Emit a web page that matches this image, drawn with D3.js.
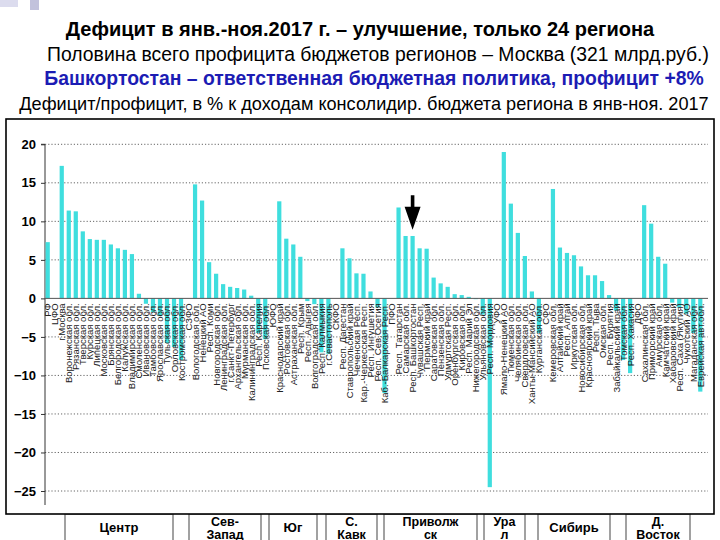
<!DOCTYPE html>
<html><head><meta charset="utf-8">
<script src="https://cdn.jsdelivr.net/npm/d3@7"></script>
<style>body{margin:0;background:#fff}svg{display:block}</style>
</head><body><svg id="c" width="720" height="540"></svg>
<script>
const categories = ["РФ","ЦФО","г.Москва","Воронежская обл.","Рязанская обл.","Тверская обл.","Курская обл.","Липецкая обл.","Московская обл.","Брянская обл.","Белгородская обл.","Калужская обл.","Владимирская обл.","Смоленская обл.","Ивановская обл.","Тамбовская обл.","Ярославская обл.","Тульская обл.","Орловская обл.","Костромская обл.",
"СЗФО","Вологодская обл.","Ненецкий АО","Респ. Коми","Новгородская обл.","Ленинградская обл.","г.Санкт-Петербург","Архангельская обл.","Мурманская обл.","Калининградская обл.","Респ. Карелия","Псковская обл.",
"ЮФО","Краснодарский край","Ростовская обл.","Астраханская обл.","Респ. Крым","Респ. Адыгея","Волгоградская обл.","Респ. Калмыкия","г.Севастополь",
"СКФО","Респ. Дагестан","Ставропольский край","Чеченская Респ.","Кар.-Черкесская Респ.","Респ. Ингушетия","Респ. Сев.Осетия","Каб.-Балкарская Респ.",
"ПФО","Респ. Татарстан","Самарская обл.","Респ. Башкортостан","Чувашская Респ.","Пермский край","Саратовская обл.","Пензенская обл.","Удмуртская Респ.","Оренбургская обл.","Кировская обл.","Респ. Марий Эл","Нижегородская обл.","Ульяновская обл.","Респ. Мордовия",
"УФО","Ямало-Ненецкий АО","Тюменская обл.","Челябинская обл.","Свердловская обл.","Ханты-Мансийский АО","Курганская обл.",
"СФО","Кемеровская обл.","Алтайский край","Респ. Алтай","Иркутская обл.","Новосибирская обл.","Красноярский край","Респ. Тыва","Омская обл.","Респ. Бурятия","Забайкальский край","Томская обл.","Респ. Хакасия",
"ДФО","Сахалинская обл.","Приморский край","Амурская обл.","Камчатский край","Хабаровский край","Респ. Саха (Якутия)","Чукотский АО","Магаданская обл.","Еврейская авт.обл."];

const values = [7.3,null,17.2,11.4,11.3,8.7,7.7,7.6,7.6,7.0,6.5,6.3,5.75,0.6,-0.7,-1.8,-2.3,-5.8,-6.3,-8.0,
null,14.8,12.7,4.7,3.2,1.85,1.5,1.35,1.15,0.35,-4.5,-5.3,
null,12.6,7.75,7.0,5.4,-0.35,-0.75,-7.0,-7.2,
null,6.5,5.2,3.25,3.2,0.9,-1.2,-12.3,
null,11.8,8.1,8.1,6.5,6.45,2.7,1.95,1.5,0.55,0.43,0.2,-0.1,-2.1,-24.5,
null,19.0,12.3,8.5,5.5,0.9,-4.5,
null,14.2,6.6,5.9,5.6,4.15,3.0,3.0,2.25,0.43,-1.6,-8.0,-9.7,
null,12.1,9.7,5.4,4.5,-0.55,-1.2,-2.0,-4.5,-12.1];

const yTicks = [20,15,10,5,0,-5,-10,-15,-20,-25];
const districtNames = [["Центр"],["Сев-","Запад"],["Юг"],["С.","Кавк"],["Приволж","ск"],["Ура","л"],["Сибирь"],["Д.","Восток"]];
const titleLines = ["Дефицит в янв.-ноя.2017 г. – улучшение, только 24 региона",
"Половина всего профицита бюджетов регионов – Москва (321 млрд.руб.)",
"Башкортостан – ответственная бюджетная политика, профицит +8%",
"Дефицит/профицит, в % к доходам консолидир. бюджета региона в янв-ноя. 2017"];
const highlighted = "Респ. Башкортостан";

// layout
const boxLayout = [[65,173],[189,261],[269,317],[326,377],[384,477],[484,525],[538,610],[626,690]];
const titleLayout = [
  {cx:360, y:36, size:17, weight:"bold", fill:"#000", fam:"Liberation Sans, Arial, sans-serif", len:590},
  {cx:378, y:61, size:19, weight:"normal", fill:"#000", fam:"Liberation Sans Narrow, Arial Narrow, Liberation Sans, sans-serif", len:662},
  {cx:374, y:85, size:18, weight:"bold", fill:"#1c1cb4", fam:"Liberation Sans, Arial, sans-serif", len:660},
  {cx:364, y:110, size:19, weight:"normal", fill:"#000", fam:"Liberation Sans Narrow, Arial Narrow, Liberation Sans, sans-serif", len:690}
];

const svg = d3.select("#c");

// decoration top-left
svg.append("rect").attr("x",0).attr("y",0).attr("width",18).attr("height",7).attr("fill","#dcdcee");
svg.append("rect").attr("x",30).attr("y",0).attr("width",9).attr("height",10).attr("fill","#c2c2dc");

// titles: size fitted to the target width
titleLines.forEach((t,i)=>{
  const L = titleLayout[i];
  const tx = svg.append("text").attr("x",L.cx).attr("y",L.y).attr("text-anchor","middle")
    .attr("font-family",L.fam).attr("font-size",L.size).attr("font-weight",L.weight)
    .attr("fill",L.fill).text(t);
  const w = tx.node().getComputedTextLength();
  const s = Math.min(L.size*L.len/w, 20);
  tx.attr("font-size", s.toFixed(2));
});

// district boxes (below the frame)
const boxTop = 514, boxBottom = 545;
const boxG = svg.append("g");
districtNames.forEach((lines,i)=>{
  const [x0,x1] = boxLayout[i];
  boxG.append("rect").attr("x",x0).attr("y",boxTop).attr("width",x1-x0).attr("height",boxBottom-boxTop)
    .attr("fill","#fff").attr("stroke","#8a8a8a").attr("stroke-width",1.6);
});

// chart frame
svg.append("rect").attr("x",6).attr("y",119).attr("width",708).attr("height",395)
  .attr("fill","#fff").attr("stroke","#000").attr("stroke-width",1.6);

// box labels
districtNames.forEach((lines,i)=>{
  const [x0,x1] = boxLayout[i];
  const cx=(x0+x1)/2;
  const ys = lines.length===1 ? [532] : [525.5,538.5];
  lines.forEach((l,k)=>{
    svg.append("text").attr("x",cx).attr("y",ys[k]).attr("text-anchor","middle")
     .attr("font-family","Liberation Sans, Arial, sans-serif").attr("font-weight","bold")
     .attr("font-size",lines.length===1?13:12.5).text(l);
  });
});

// scales
const y = d3.scaleLinear().domain([-25,20]).range([491,144.3]);
const x = d3.scaleBand().domain(categories).range([44.2,703.8]).padding(0);
const barW = x.bandwidth()*0.6;
const plotL = 45, plotR = 708;

// gridlines
svg.append("g").selectAll("line").data(yTicks.filter(d=>d!==0)).join("line")
  .attr("x1",plotL).attr("x2",plotR).attr("y1",d=>y(d)).attr("y2",d=>y(d))
  .attr("stroke","#666").attr("stroke-width",1).attr("stroke-dasharray","1.2,2");

// y axis
const yAxis = d3.axisLeft(y).tickValues(yTicks).tickSize(4).tickPadding(5).tickFormat(d3.format("d"));
const ag = svg.append("g").attr("transform",`translate(${plotL},0)`).call(yAxis);
ag.select(".domain").attr("stroke","#333").attr("d",`M-4,${y(20)}H0V${y(-25)+14}`);
ag.selectAll(".tick line").attr("stroke","#333");
ag.selectAll(".tick text").attr("font-family","Liberation Sans, Arial, sans-serif").attr("font-size",13).attr("font-weight","bold").attr("fill","#000");

// bars
const data = categories.map((c,i)=>({c, v:values[i]})).filter(d=>d.v!==null);
svg.append("g").selectAll("rect").data(data).join("rect")
  .attr("x",d=>x(d.c)+(x.bandwidth()-barW)/2).attr("width",barW)
  .attr("y",d=>y(Math.max(0,d.v))).attr("height",d=>Math.abs(y(d.v)-y(0)))
  .attr("fill","#3fdede");

// zero line
svg.append("line").attr("x1",plotL).attr("x2",plotR).attr("y1",y(0)).attr("y2",y(0)).attr("stroke","#555").attr("stroke-width",1);

// category labels
svg.append("g").selectAll("text").data(categories).join("text")
  .attr("transform",d=>`translate(${x(d)+x.bandwidth()/2+3.5},${y(0)+5}) rotate(-90)`)
  .attr("text-anchor","end").attr("font-family","Liberation Sans, Arial, sans-serif")
  .attr("font-size",9.5).attr("fill","#222").text(d=>d);

// arrow at highlighted region
const ax = x(highlighted)+x.bandwidth()/2;
const tipY = y(8.9), topY = y(13.4), headY = y(11.9);
svg.append("path").attr("d",`M${ax-1.8},${topY}H${ax+1.8}V${headY}H${ax+8}L${ax},${tipY}L${ax-8},${headY}H${ax-1.8}Z`).attr("fill","#000");
</script></body></html>
